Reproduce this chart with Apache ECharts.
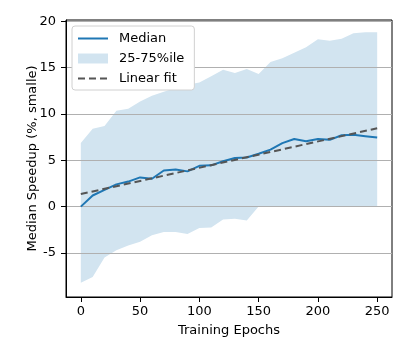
<!DOCTYPE html>
<html>
<head>
<meta charset="utf-8">
<script src="https://cdn.jsdelivr.net/npm/echarts@6/dist/echarts.min.js"></script>
<style>
  html, body { margin: 0; padding: 0; background: #fff; }
  #main { width: 407px; height: 356px; }
</style>
</head>
<body>
<div id="main"></div>
<script>
const epochs = [0, 10, 20, 30, 40, 50, 60, 70, 80, 90, 100, 110, 120, 130, 140, 150, 160, 170, 180, 190, 200, 210, 220, 230, 240, 250]
const median = [0.0, 1.2, 1.8, 2.4, 2.7, 3.15, 3.0, 3.9, 4.0, 3.8, 4.4, 4.45, 4.9, 5.25, 5.3, 5.7, 6.15, 6.85, 7.3, 7.05, 7.3, 7.2, 7.7, 7.75, 7.6, 7.45]
const q75 = [6.85, 8.4, 8.7, 10.35, 10.55, 11.35, 11.95, 12.4, 12.8, 13.15, 13.4, 14.05, 14.75, 14.4, 14.85, 14.3, 15.6, 16.0, 16.6, 17.2, 18.05, 17.9, 18.1, 18.7, 18.8, 18.8]
const q25 = [-8.2, -7.6, -5.5, -4.7, -4.2, -3.8, -3.1, -2.75, -2.75, -2.95, -2.3, -2.25, -1.4, -1.3, -1.5, 0.0, 0.0, 0.0, 0.0, 0.0, 0.0, 0.0, 0.0, 0.0, 0.0, 0.0]
const fitX = [0, 250]
const fitY = [1.35, 8.45]
const xTicks = [0, 50, 100, 150, 200, 250]
const yTicks = [-5, 0, 5, 10, 15, 20]

const blue = '#1f77b4'
const bandColor = '#d2e4f0'
const font = 'DejaVu Sans'

const myChart = echarts.init(document.querySelector('#main'), null, { renderer: 'canvas' })

const pairs = (xs, ys) => xs.map((x, i) => [x, ys[i]])

// 25-75 band drawn as one polygon: upper edge forward, lower edge back
const renderBand = (params, api) => {
    if (params.dataIndex !== 0) {
        return
    }
    const top = epochs.map((x, i) => api.coord([x, q75[i]]))
    const bottom = epochs.map((x, i) => api.coord([x, q25[i]])).reverse()
    return {
        type: 'polygon',
        shape: { points: top.concat(bottom) },
        style: { fill: bandColor, stroke: null }
    }
}

myChart.setOption({
    animation: false,
    textStyle: { fontFamily: font, color: '#000' },
    grid: {
        left: 66, right: 15, top: 20, bottom: 59,
        show: true, borderColor: '#000', borderWidth: 1, backgroundColor: 'transparent'
    },
    legend: {
        orient: 'vertical',
        left: 72, top: 26,
        padding: [6, 10, 5, 5],
        itemWidth: 30, itemHeight: 10, itemGap: 7,
        backgroundColor: '#fff',
        borderColor: '#d0d0d0', borderWidth: 1, borderRadius: 3,
        textStyle: { fontFamily: font, fontSize: 13, color: '#000', padding: [0, 0, 0, 6] },
        data: [
            { name: 'Median', itemStyle: { opacity: 0 } },
            { name: '25-75%ile', icon: 'rect', itemStyle: { color: bandColor } },
            { name: 'Linear fit', itemStyle: { opacity: 0 } }
        ]
    },
    xAxis: {
        type: 'value', min: -12.5, max: 262.5,
        name: 'Training Epochs', nameLocation: 'middle', nameGap: 27, nameMoveOverlap: false,
        nameTextStyle: { fontFamily: font, fontSize: 13, color: '#000' },
        axisLine: { onZero: false, lineStyle: { color: '#000', width: 1 } },
        axisTick: { show: true, customValues: xTicks, length: 5, lineStyle: { color: '#000' } },
        axisLabel: { customValues: xTicks, margin: 8, fontFamily: font, fontSize: 13, color: '#000' },
        splitLine: { show: false }
    },
    yAxis: {
        type: 'value', min: -9.75, max: 20.13,
        name: 'Median Speedup (%, smalle)', nameLocation: 'middle', nameGap: 27, nameMoveOverlap: false,
        nameTextStyle: { fontFamily: font, fontSize: 13, color: '#000' },
        axisLine: { show: true, onZero: false, lineStyle: { color: '#000', width: 1 } },
        axisTick: { show: true, customValues: yTicks, length: 5, lineStyle: { color: '#000' } },
        axisLabel: { customValues: yTicks, margin: 10, fontFamily: font, fontSize: 13, color: '#000' },
        splitLine: { show: true, customValues: yTicks, lineStyle: { color: '#b0b0b0', width: 1 } }
    },
    series: [
        {
            name: '25-75%ile', type: 'custom', renderItem: renderBand,
            data: pairs(epochs, q75), z: -1, silent: true,
            itemStyle: { color: bandColor }
        },
        {
            name: 'Median', type: 'line', data: pairs(epochs, median),
            symbol: 'none', z: 3,
            itemStyle: { color: blue },
            lineStyle: { color: blue, width: 2 }
        },
        {
            name: 'Linear fit', type: 'line', data: pairs(fitX, fitY),
            symbol: 'none', z: 4,
            itemStyle: { color: '#555' },
            lineStyle: { color: '#555', width: 2, type: [7, 4] }
        }
    ]
})
</script>
</body>
</html>
